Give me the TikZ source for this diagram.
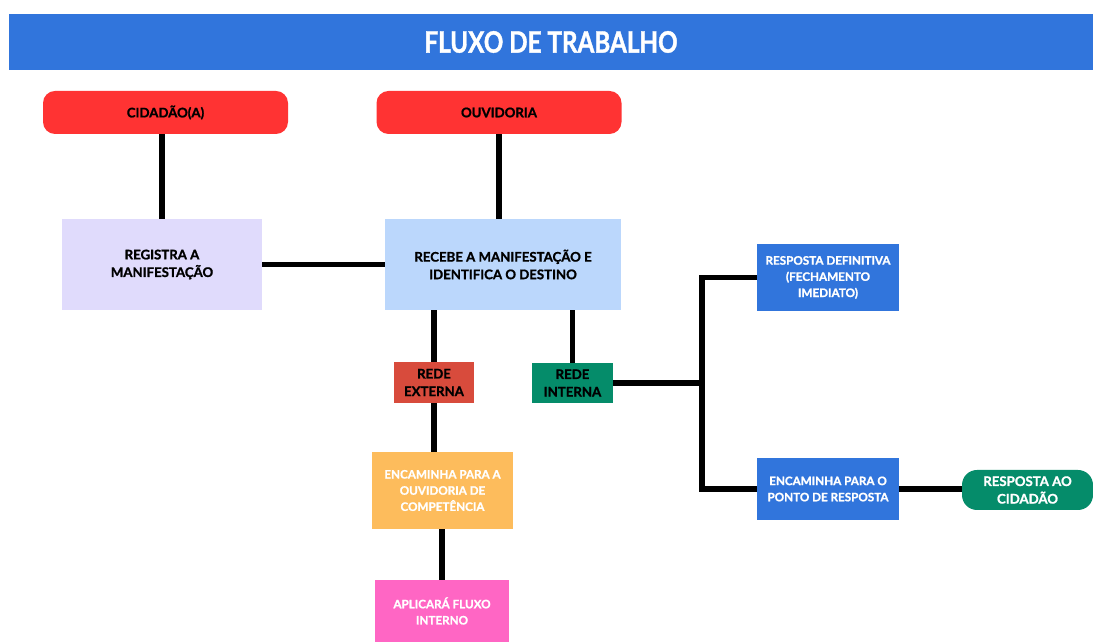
\documentclass[tikz,border=0pt]{standalone}
\usepackage{fontspec}
\setmainfont{Lato}[BoldFeatures={FakeBold=1.2}]
\definecolor{azulfaixa}{RGB}{49,117,220}
\definecolor{vermelho}{RGB}{255,51,51}
\definecolor{lavanda}{RGB}{224,219,252}
\definecolor{azulclaro}{RGB}{187,215,252}
\definecolor{tijolo}{RGB}{216,75,60}
\definecolor{verde}{RGB}{5,140,106}
\definecolor{laranja}{RGB}{253,188,92}
\definecolor{rosa}{RGB}{255,102,196}
\usetikzlibrary{positioning}

\begin{document}
\begin{tikzpicture}[
    caixa/.style={align=center, inner sep=2pt, font=\fontsize{9.4}{12.5}\selectfont\bfseries},
    miuda/.style={caixa, text=white, font=\fontsize{8.3}{11.5}\selectfont\bfseries},
    pilula/.style={caixa, rounded corners=0.3cm},
    liga/.style={line width=3.6pt, black}
  ]
    \useasboundingbox (0,0) rectangle (27.325,16.05);

    % Faixa do título
    \node[fill=azulfaixa, text=white, minimum width=27.1cm, minimum height=1.4cm,
          font=\fontsize{21}{22}\selectfont\bfseries\addfontfeature{FakeStretch=0.82}] (titulo) at (13.775,15.0) {FLUXO DE TRABALHO};

    % Atores
    \node[pilula, fill=vermelho, minimum width=6.125cm, minimum height=1.075cm] (cid) at (4.1375,13.2375) {CIDADÃO(A)};
    \node[pilula, fill=vermelho, minimum width=6.125cm, minimum height=1.075cm] (ouv) at (12.475,13.2375) {OUVIDORIA};

    % Registro e recebimento
    \node[caixa, fill=lavanda, minimum width=5cm, minimum height=2.275cm] (reg) at (4.05,9.4375) {REGISTRA A\\MANIFESTAÇÃO};
    \node[caixa, fill=azulclaro, minimum width=5.9cm, minimum height=2.275cm] (rec) at (12.575,9.4375) {RECEBE A MANIFESTAÇÃO E\\IDENTIFICA O DESTINO};

    % Redes
    \node[caixa, fill=tijolo, minimum width=2cm, minimum height=1.025cm] (ext) at (10.85,6.4875) {REDE\\EXTERNA};
    \node[caixa, fill=verde, minimum width=2.025cm, minimum height=1cm] (int) at (14.3125,6.475) {REDE\\INTERNA};

    % Ramo externo
    \node[miuda, fill=laranja, minimum width=3.525cm, minimum height=1.925cm] (comp) at (11.0625,3.7875) {ENCAMINHA PARA A\\OUVIDORIA DE\\COMPETÊNCIA};
    \node[miuda, fill=rosa, minimum width=3.35cm, minimum height=1.55cm] (apl) at (11.05,0.775) {APLICARÁ FLUXO\\INTERNO};

    % Ramo interno
    \node[miuda, fill=azulfaixa, minimum width=3.55cm, minimum height=1.675cm] (def) at (20.7,9.1125) {RESPOSTA DEFINITIVA\\(FECHAMENTO\\IMEDIATO)};
    \node[miuda, fill=azulfaixa, minimum width=3.55cm, minimum height=1.55cm] (pto) at (20.7,3.825) {ENCAMINHA PARA O\\PONTO DE RESPOSTA};
    \node[pilula, fill=verde, text=white, minimum width=3.275cm, minimum height=1cm, rounded corners=0.375cm] (resp) at (25.6875,3.8) {RESPOSTA AO\\CIDADÃO};

    \coordinate (jn) at (17.55,6.575);

    % Ligações
    \draw[liga] (reg.north) -- (reg.north |- cid.south);
    \draw[liga] (ouv.south) -- (ouv.south |- rec.north);
    \draw[liga] (reg.east) -- (rec.west);
    \draw[liga] (ext.north) -- (ext.north |- rec.south);
    \draw[liga] (int.north) -- (int.north |- rec.south);
    \draw[liga] (ext.south) -- (ext.south |- comp.north);
    \draw[liga] (apl.north) -- (apl.north |- comp.south);
    \draw[liga] (int.east) -- (int.east -| jn);
    \draw[liga] (def.west) -- (jn |- def.west) -- (jn |- pto.west) -- (pto.west);
    \draw[liga] (pto.east) -- (pto.east -| resp.west);
\end{tikzpicture}
\end{document}
